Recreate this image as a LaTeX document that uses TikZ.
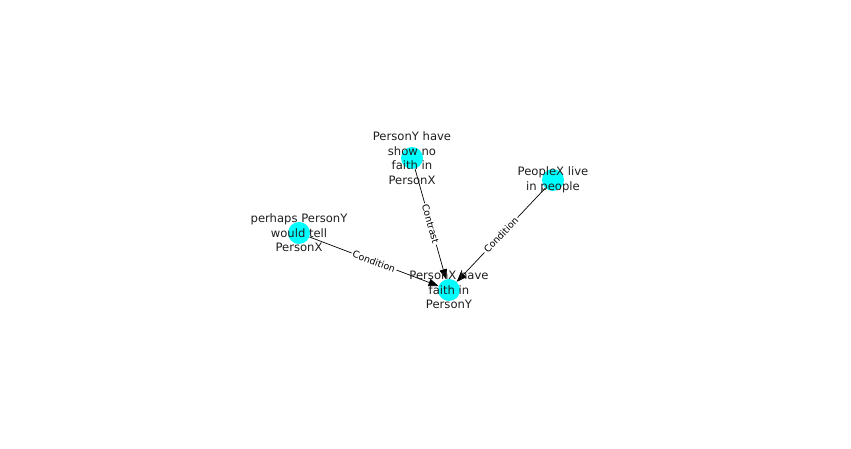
\documentclass[tikz,border=0pt]{standalone}
\usepackage{fontspec}
\setmainfont{DejaVu Sans}
\usetikzlibrary{arrows.meta}
\definecolor{nodecyan}{RGB}{0,255,255}
\definecolor{inktext}{RGB}{30,30,30}
\begin{document}
\begin{tikzpicture}[x=1pt, y=-1pt, >={Triangle[length=10pt,width=7.5pt]},
    dot/.style={circle, fill=nodecyan, draw=none, minimum size=22pt, inner sep=0pt},
    txt/.style={align=center, inner sep=0pt, text=inktext, font=\fontsize{11.6}{14.6}\selectfont},
    rel/.style={midway, sloped, fill=white, inner sep=1.5pt, font=\fontsize{9.4}{11}\selectfont}]
            \useasboundingbox (0, 0) rectangle (851, 449);

            % Nodes
            \node[dot] at (412, 158) (show) {};
            \node[dot] at (553, 180) (live) {};
            \node[dot] at (299, 233) (tell) {};
            \node[dot] at (449, 290) (faith) {};

            % Edges
            \draw[->, line width=0.7pt] (show) -- (faith)
                node[rel] {Contrast};

            \draw[->, line width=0.7pt] (tell) -- (faith)
                node[rel] {Condition};

            \draw[->, line width=0.7pt] (live) -- (faith)
                node[rel] {Condition};

            % Texts
            \node[txt] at (show) (showtext) {PersonY have\\show no\\faith in\\PersonX};
            \node[txt] at (live) (livetext) {PeopleX live\\in people};
            \node[txt] at (tell) (telltext) {perhaps PersonY\\would tell\\PersonX};
            \node[txt] at (faith) (faithtext) {PersonX have\\faith in\\PersonY};
        \end{tikzpicture}
\end{document}
